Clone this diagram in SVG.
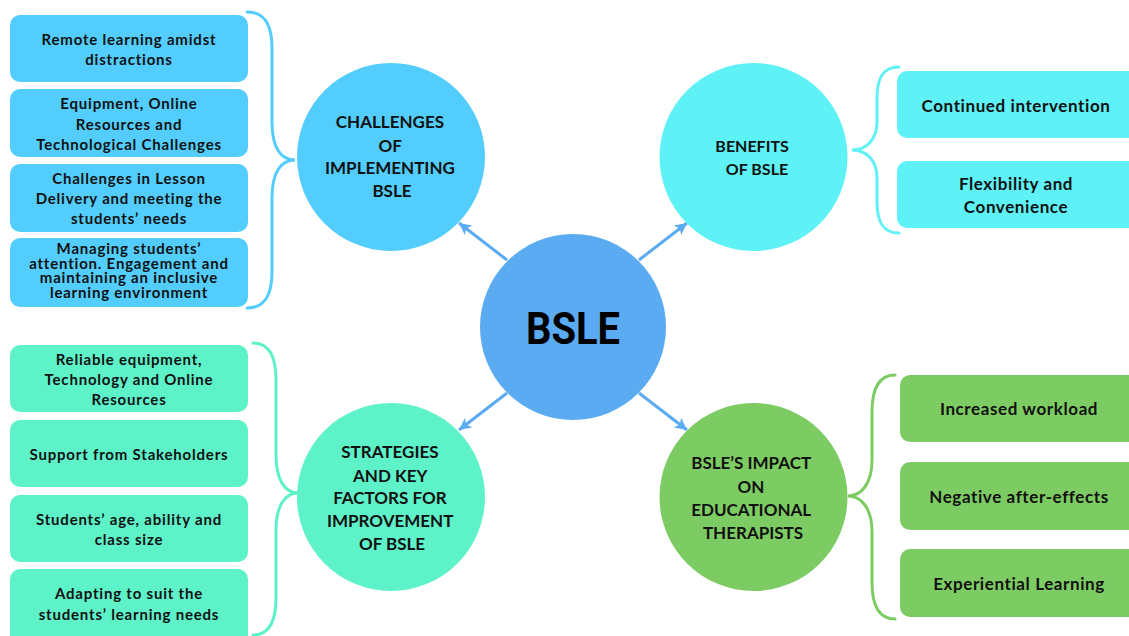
<svg xmlns="http://www.w3.org/2000/svg" width="1129" height="636" viewBox="0 0 1129 636">
  <style>
    .box-text { font-family: Lato, "Open Sans", sans-serif; font-weight: 700; font-size: 15px; letter-spacing: 0.8px; fill: #111; text-anchor: middle; }
    .box-text-lg { font-family: Lato, "Open Sans", sans-serif; font-weight: 700; font-size: 17px; letter-spacing: 0.6px; fill: #111; text-anchor: middle; }
    .hub-text { font-family: Lato, "Open Sans", sans-serif; font-weight: 700; font-size: 17px; fill: #111; text-anchor: middle; }
    .core-text { font-family: Roboto, "Liberation Sans", sans-serif; font-weight: 700; font-size: 44px; fill: #000; text-anchor: middle; }
    .sky { fill: #52CDFD; }
    .aqua { fill: #5EF1F6; }
    .mint { fill: #5EF2C9; }
    .leaf { fill: #7DCB63; }
    .brace { fill: none; stroke-width: 3; stroke-linecap: round; }
    .arrow { stroke: #5AABF2; stroke-width: 3; marker-end: url(#head); }
  </style>
  <defs>
    <marker id="head" markerUnits="userSpaceOnUse" markerWidth="14" markerHeight="12" refX="12" refY="6" orient="auto">
      <path d="M0,0 L12,6 L0,12 L3,6 Z" fill="#5AABF2"/>
    </marker>
  </defs>

  <rect width="1129" height="636" fill="#fff"/>

  <!-- connectors: arrows from the core and the grouping braces -->
  <g id="connectors">
    <line class="arrow" x1="507" y1="260" x2="459" y2="223"/>
    <line class="arrow" x1="639" y1="260" x2="687" y2="223"/>
    <line class="arrow" x1="507" y1="393" x2="459" y2="430"/>
    <line class="arrow" x1="639" y1="393" x2="687" y2="430"/>

    <path class="brace" stroke="#52CDFD" d="M247,12 C265,12 272,25 272,48 L272,122 C272,148 281,160 295,160 C281,160 272,172 272,198 L272,272 C272,295 265,308 247,308"/>
    <path class="brace" stroke="#5EF1F6" d="M899,67 C883,67 877,78 877,98 L877,122 C877,140 866,150 852,150 C866,150 877,160 877,178 L877,202 C877,222 883,233 899,233"/>
    <path class="brace" stroke="#5EF2C9" d="M253,343 C269,343 276,356 276,380 L276,455 C276,480 285,493 298,493 C285,493 276,506 276,530 L276,598 C276,622 269,635 253,635"/>
    <path class="brace" stroke="#7DCB63" d="M895,375 C879,375 872,388 872,412 L872,460 C872,484 861,496 848,496 C861,496 872,508 872,532 L872,582 C872,606 879,619 895,619"/>
  </g>

  <!-- core -->
  <g id="core">
    <circle cx="573" cy="327" r="93" fill="#5AABF2"/>
    <text class="core-text" x="573" y="344" textLength="94" lengthAdjust="spacingAndGlyphs">BSLE</text>
  </g>

  <!-- challenges -->
  <g id="challenges">
    <circle class="sky" cx="391" cy="157" r="94"/>
    <text class="hub-text">
      <tspan x="392" y="128">CHALLENGES</tspan>
      <tspan x="392" y="152">OF</tspan>
      <tspan x="392" y="174">IMPLEMENTING</tspan>
      <tspan x="392" y="197">BSLE</tspan>
    </text>
  </g>
  <g id="challenge-1">
    <rect class="sky" x="10" y="15" width="238" height="67" rx="10"/>
    <text class="box-text"><tspan x="129" y="45">Remote learning amidst</tspan><tspan x="129" y="65">distractions</tspan></text>
  </g>
  <g id="challenge-2">
    <rect class="sky" x="10" y="89" width="238" height="68" rx="10"/>
    <text class="box-text"><tspan x="129" y="109">Equipment, Online</tspan><tspan x="129" y="130">Resources and</tspan><tspan x="129" y="150">Technological Challenges</tspan></text>
  </g>
  <g id="challenge-3">
    <rect class="sky" x="10" y="164" width="238" height="68" rx="10"/>
    <text class="box-text"><tspan x="129" y="184">Challenges in Lesson</tspan><tspan x="129" y="204">Delivery and meeting the</tspan><tspan x="129" y="224">students’ needs</tspan></text>
  </g>
  <g id="challenge-4">
    <rect class="sky" x="10" y="238" width="238" height="69" rx="10"/>
    <text class="box-text"><tspan x="129" y="254">Managing students’</tspan><tspan x="129" y="268.5">attention. Engagement and</tspan><tspan x="129" y="283">maintaining an inclusive</tspan><tspan x="129" y="297.5">learning environment</tspan></text>
  </g>

  <!-- benefits -->
  <g id="benefits">
    <circle class="aqua" cx="753.5" cy="157" r="94"/>
    <text class="hub-text" style="font-size:16px">
      <tspan x="754" y="152">BENEFITS</tspan>
      <tspan x="757" y="175">OF BSLE</tspan>
    </text>
  </g>
  <g id="benefit-1">
    <rect class="aqua" x="897" y="71" width="250" height="67" rx="10"/>
    <text class="box-text-lg" x="1016" y="112">Continued intervention</text>
  </g>
  <g id="benefit-2">
    <rect class="aqua" x="897" y="161" width="250" height="67" rx="10"/>
    <text class="box-text-lg"><tspan x="1016" y="190">Flexibility and</tspan><tspan x="1016" y="213">Convenience</tspan></text>
  </g>

  <!-- strategies -->
  <g id="strategies">
    <circle class="mint" cx="391" cy="497" r="94"/>
    <text class="hub-text">
      <tspan x="392" y="458">STRATEGIES</tspan>
      <tspan x="392" y="482">AND KEY</tspan>
      <tspan x="392" y="504">FACTORS FOR</tspan>
      <tspan x="392" y="527">IMPROVEMENT</tspan>
      <tspan x="392" y="550">OF BSLE</tspan>
    </text>
  </g>
  <g id="strategy-1">
    <rect class="mint" x="10" y="345" width="238" height="67" rx="10"/>
    <text class="box-text"><tspan x="129" y="365">Reliable equipment,</tspan><tspan x="129" y="385">Technology and Online</tspan><tspan x="129" y="405">Resources</tspan></text>
  </g>
  <g id="strategy-2">
    <rect class="mint" x="10" y="420" width="238" height="67" rx="10"/>
    <text class="box-text" x="129" y="460">Support from Stakeholders</text>
  </g>
  <g id="strategy-3">
    <rect class="mint" x="10" y="495" width="238" height="67" rx="10"/>
    <text class="box-text"><tspan x="129" y="525">Students’ age, ability and</tspan><tspan x="129" y="545">class size</tspan></text>
  </g>
  <g id="strategy-4">
    <rect class="mint" x="10" y="569" width="238" height="80" rx="10"/>
    <text class="box-text"><tspan x="129" y="599">Adapting to suit the</tspan><tspan x="129" y="620">students’ learning needs</tspan></text>
  </g>

  <!-- impact -->
  <g id="impact">
    <circle class="leaf" cx="753.5" cy="497" r="94"/>
    <text class="hub-text">
      <tspan x="753" y="469">BSLE’S IMPACT</tspan>
      <tspan x="753" y="493">ON</tspan>
      <tspan x="753" y="516">EDUCATIONAL</tspan>
      <tspan x="753" y="539">THERAPISTS</tspan>
    </text>
  </g>
  <g id="impact-1">
    <rect class="leaf" x="900" y="375" width="250" height="67" rx="10"/>
    <text class="box-text-lg" x="1019" y="415">Increased workload</text>
  </g>
  <g id="impact-2">
    <rect class="leaf" x="900" y="462" width="250" height="68" rx="10"/>
    <text class="box-text-lg" x="1019" y="503">Negative after-effects</text>
  </g>
  <g id="impact-3">
    <rect class="leaf" x="900" y="549" width="250" height="68" rx="10"/>
    <text class="box-text-lg" x="1019" y="590">Experiential Learning</text>
  </g>
</svg>
